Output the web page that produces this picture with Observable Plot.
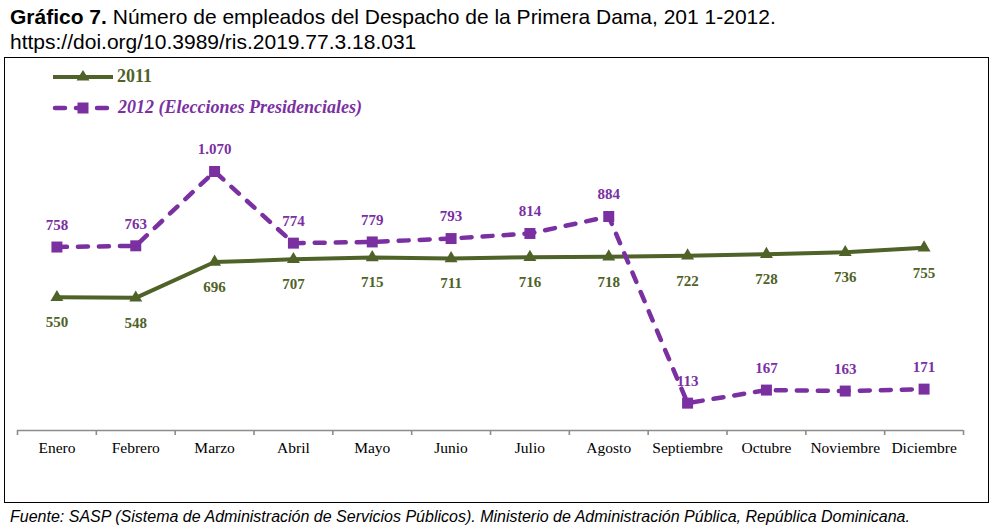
<!DOCTYPE html>
<html>
<head>
<meta charset="utf-8">
<script src="https://cdn.jsdelivr.net/npm/d3@7"></script>
<script src="https://cdn.jsdelivr.net/npm/@observablehq/plot@0.6"></script>
<style>
  html, body { margin: 0; padding: 0; background: #fff; }
  body { width: 995px; height: 528px; position: relative; overflow: hidden; }
  #title { position: absolute; left: 10px; top: 4px; font-family: "Liberation Sans", Arial, sans-serif; font-size: 21px; line-height: 25px; color: #000; white-space: nowrap; }
  #chart { position: absolute; left: 0; top: 56px; width: 995px; height: 449px; }
  #box { position: absolute; left: 4px; top: 1px; width: 983px; height: 444px; border: 1.5px solid #000; box-sizing: content-box; }
  #chart > svg { position: absolute; left: 0; top: 0; }
  #legend { position: absolute; left: 0; top: 0; font-family: "Liberation Serif", "Times New Roman", serif; font-weight: bold; font-size: 18px; }
  #legend .li { position: absolute; display: flex; align-items: center; white-space: nowrap; }
  #legend .li svg { position: static; display: block; }
  #caption { position: absolute; left: 10px; top: 507px; font-family: "Liberation Sans", Arial, sans-serif; font-style: italic; font-size: 16px; line-height: 20px; color: #000; white-space: nowrap; }
</style>
</head>
<body>
<div id="title"><b>Gráfico 7.</b> Número de empleados del Despacho de la Primera Dama, 201 1-2012.<br>https://doi.org/10.3989/ris.2019.77.3.18.031</div>
<div id="chart">
  <div id="box"></div>
  <div id="legend">
    <div class="li" style="left:52px; top:10px; color:#4f6228;">
      <svg width="62" height="20"><line x1="1" y1="10" x2="61" y2="10" stroke="#4f6228" stroke-width="4"/><polygon points="31,3 37.5,13.5 24.5,13.5" fill="#4f6228"/></svg>
      <span style="margin-left:3px;">2011</span>
    </div>
    <div class="li" style="left:52px; top:41px; color:#7b30a2;">
      <svg width="62" height="20"><line x1="3" y1="10" x2="59" y2="10" stroke="#7b30a2" stroke-width="4.5" stroke-dasharray="10,11" stroke-linecap="round"/><rect x="25.5" y="4.5" width="11" height="11" fill="#7b30a2"/></svg>
      <span style="margin-left:4px; font-style:italic;">2012 (Elecciones Presidenciales)</span>
    </div>
  </div>
</div>
<div id="caption">Fuente: SASP (Sistema de Administración de Servicios Públicos). Ministerio de Administración Pública, República Dominicana.</div>
<script>
const meses = ["Enero", "Febrero", "Marzo", "Abril", "Mayo", "Junio", "Julio", "Agosto", "Septiembre", "Octubre", "Noviembre", "Diciembre"];
const v2011 = [550, 548, 696, 707, 715, 711, 716, 718, 722, 728, 736, 755];
const v2012 = [758, 763, 1070, 774, 779, 793, 814, 884, 113, 167, 163, 171];

const green = "#4f6228";
const purple = "#7b30a2";
const serif = "'Liberation Serif', 'Times New Roman', serif";

const d2011 = meses.map((m, i) => ({i, mes: m, v: v2011[i]}));
const d2012 = meses.map((m, i) => ({i, mes: m, v: v2012[i]}));
const bordes = d3.range(meses.length + 1).map(k => k - 0.5);
const fmt = d3.formatLocale({decimal: ",", thousands: ".", grouping: [3], currency: ["", ""]}).format(",");

const chart = Plot.plot({
  width: 995,
  height: 449,
  marginLeft: 17,
  marginRight: 32,
  marginTop: 115,
  marginBottom: 75,
  style: {background: "transparent", overflow: "visible"},
  x: {domain: [-0.5, meses.length - 0.5], label: null},
  y: {domain: [0, 1070], axis: null, label: null},
  marks: [
    Plot.ruleY([0], {stroke: "#8c8c8c", strokeWidth: 1.6}),
    Plot.axisX({ticks: bordes, tickSize: 5, tickFormat: () => "", color: "#8c8c8c", strokeWidth: 1.6, label: null}),
    Plot.axisX({ticks: d3.range(meses.length), tickSize: 0, tickPadding: 11, tickFormat: i => meses[i], fontSize: 15.5, fontFamily: serif, color: "#000", label: null}),
    Plot.line(d2011, {x: "i", y: "v", stroke: green, strokeWidth: 4}),
    Plot.dot(d2011, {x: "i", y: "v", symbol: "triangle", r: 4.8, fill: green, stroke: "none"}),
    Plot.line(d2012, {x: "i", y: "v", stroke: purple, strokeWidth: 4.5, strokeDasharray: "10,11", strokeLinecap: "round"}),
    Plot.dot(d2012, {x: "i", y: "v", symbol: "square", r: 6.2, fill: purple, stroke: "none"}),
    Plot.text(d2011, {x: "i", y: "v", text: d => fmt(d.v), dy: 25, fill: green, fontSize: 15, fontWeight: "bold", fontFamily: serif}),
    Plot.text(d2012, {x: "i", y: "v", text: d => fmt(d.v), dy: -22, fill: purple, fontSize: 15, fontWeight: "bold", fontFamily: serif})
  ]
});
document.getElementById("chart").insertBefore(chart, document.getElementById("legend"));
</script>
</body>
</html>
